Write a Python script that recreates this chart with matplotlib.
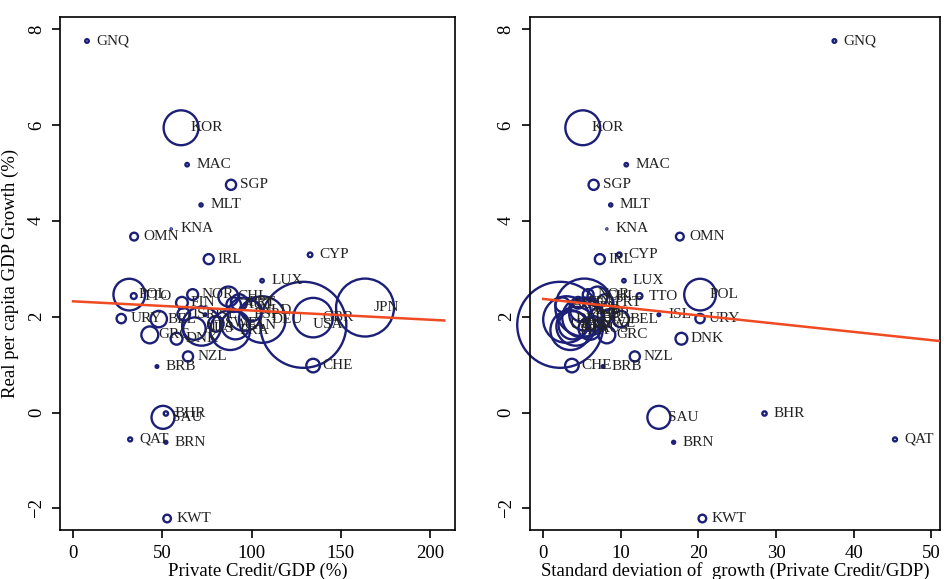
import numpy as np
import matplotlib.pyplot as plt

plt.rcParams['font.family'] = ['Liberation Serif', 'DejaVu Serif']

# country data: private credit/GDP (%), growth (%), sd of credit growth, population (millions)
countries = ["GNQ", "KOR", "MAC", "SGP", "MLT", "KNA", "OMN", "IRL", "CYP", "LUX",
             "POL", "TTO", "NOR", "FIN", "CHL", "URY", "ISL", "DNK", "NZL", "BRB",
             "CHE", "BHR", "SAU", "QAT", "BRN", "KWT", "JPN", "USA", "DEU", "GBR",
             "FRA", "ITA", "ESP", "CAN", "AUS", "NLD", "PRT", "GRC", "BEL", "SWE",
             "AUT", "ISR"]
private_credit = [7.8, 60.5, 63.9, 88.5, 71.7, 55.0, 34.2, 76.0, 132.8, 105.9,
                  31.5, 34.0, 67.0, 61.0, 87.0, 27.0, 74.0, 58.0, 64.4, 47.0,
                  134.5, 52.0, 50.4, 32.0, 52.0, 52.7, 163.6, 129.0, 106.0, 134.5,
                  88.0, 72.0, 96.0, 91.0, 68.0, 100.0, 93.0, 43.0, 48.0, 80.0,
                  90.0, 62.0]
growth = [7.75, 5.94, 5.17, 4.75, 4.33, 3.83, 3.67, 3.20, 3.29, 2.75,
          2.46, 2.43, 2.46, 2.29, 2.42, 1.96, 2.04, 1.54, 1.17, 0.96,
          0.98, -0.02, -0.10, -0.56, -0.62, -2.21, 2.19, 1.83, 1.94, 1.98,
          1.72, 1.80, 2.05, 1.82, 1.75, 2.12, 2.30, 1.62, 1.95, 1.85,
          2.25, 2.05]
sd_credit = [37.5, 5.1, 10.7, 6.5, 8.7, 8.2, 17.6, 7.3, 9.8, 10.4,
             20.2, 12.4, 5.8, 4.5, 7.0, 20.2, 14.9, 17.8, 11.8, 7.7,
             3.7, 28.5, 14.9, 45.3, 16.8, 20.5, 5.3, 2.2, 3.0, 5.0,
             3.5, 4.2, 5.5, 3.8, 6.0, 4.8, 8.0, 8.2, 10.0, 6.5,
             2.5, 7.0]
population = [0.5, 46, 0.45, 3.9, 0.38, 0.045, 2.3, 3.8, 0.8, 0.45,
              38, 1.3, 4.5, 5.2, 15, 3.3, 0.28, 5.3, 3.9, 0.27,
              7.0, 0.7, 20, 0.6, 0.33, 2.2, 127, 280, 82, 59,
              60, 57, 42, 30, 19, 16, 10, 10.8, 10.2, 9.0,
              8.0, 6.0]

# population weighted fitted lines (intercept, slope, x range)
fit_left = (2.32, -0.00192)
fit_left_x = [0, 208]
fit_right = (2.37, -0.0172)
fit_right_x = [0, 51]

navy = "#1c1f78"
red = "#f04a22"
sizes = np.array(population) * 13.7

fig = plt.figure(figsize=(9.44, 5.79), dpi=100)
ax1 = fig.add_axes([0.0636, 0.0846, 0.4184, 0.886])
ax2 = fig.add_axes([0.5614, 0.0846, 0.4344, 0.886])

panels = [
    (ax1, private_credit, fit_left, fit_left_x, (-7.3, 214), [0, 50, 100, 150, 200],
     "Private Credit/GDP (%)"),
    (ax2, sd_credit, fit_right, fit_right_x, (-1.7, 51.1), [0, 10, 20, 30, 40, 50],
     "Standard deviation of  growth (Private Credit/GDP)"),
]

for ax, xs, fit, fx, xlim, xticks, xlabel in panels:
    ax.scatter(xs, growth, s=sizes, facecolors="none", edgecolors=navy,
               linewidths=1.7, clip_on=False, zorder=2)
    for name, x, y in zip(countries, xs, growth):
        ax.annotate(name, (x, y), xytext=(6.5, 0), textcoords="offset points",
                    ha="left", va="center", fontsize=11, color="#222222", zorder=3)
    fx = np.array(fx, dtype=float)
    ax.plot(fx, fit[0] + fit[1] * fx, color=red, lw=1.8, zorder=4)

    ax.set_xlim(*xlim)
    ax.set_ylim(-2.45, 8.25)
    ax.set_xticks(xticks)
    ax.set_yticks([-2, 0, 2, 4, 6, 8])
    ax.tick_params(direction="out", length=6, width=1.2, labelsize=13.5, pad=5)
    for lbl in ax.get_yticklabels():
        lbl.set_rotation(90)
        lbl.set_va("center")
    for sp in ax.spines.values():
        sp.set_linewidth(1.2)
    ax.set_xlabel(xlabel, fontsize=13.5, labelpad=0)

ax1.set_ylabel("Real per capita GDP Growth (%)", fontsize=13.5, labelpad=6)

fig.savefig("out.png", dpi=100)
